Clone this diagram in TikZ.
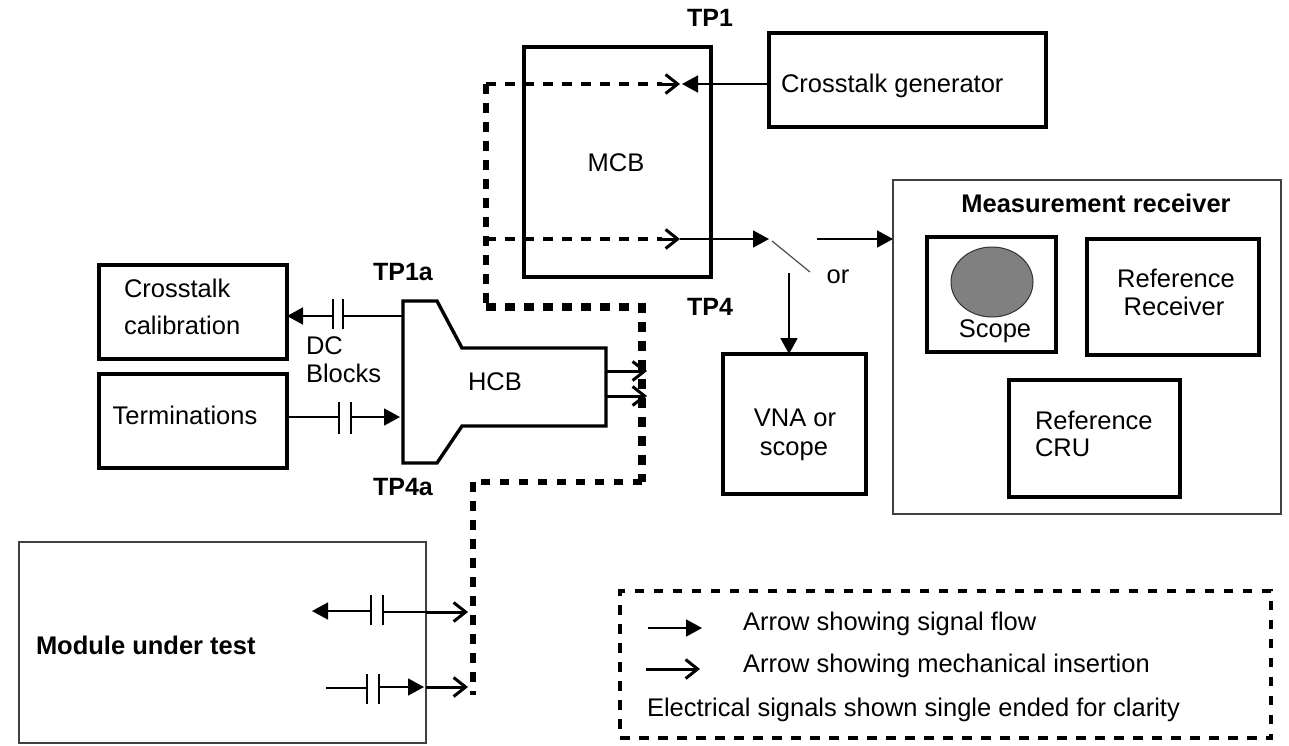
\documentclass[tikz,border=0pt]{standalone}
\usepackage{fontspec}
\setmainfont{Liberation Sans}
\usetikzlibrary{arrows.meta,calc,shapes.geometric}
\tikzset{
  x=1pt,y=-1pt,
  every node/.style={font=\fontsize{25.5}{30}\selectfont,inner sep=0pt,outer sep=0pt},
  tp/.style={font=\fontsize{25}{30}\selectfont\bfseries},
  box/.style={draw=black,line width=3.4pt,anchor=north west},
  thinbox/.style={draw=black!75,line width=1.8pt,anchor=north west},
  sig/.style={line width=1.7pt,-{Triangle[length=16pt,width=17pt]}},
  wire/.style={line width=1.7pt},
  mech/.style={line width=3pt,-{Straight Barb[length=12pt,width=19pt,line width=3pt]}},
  capl/.style={line width=1.5pt},
  dashA/.style={line width=3.6pt,dash pattern=on 9.5pt off 9.5pt},
  dashB/.style={line width=6pt,dash pattern=on 9.5pt off 9.5pt},
  dashC/.style={line width=8pt,dash pattern=on 9.5pt off 9.5pt}
}
\newcommand{\bx}[6]{\node[#1,minimum width=#4-#3,minimum height=#6-#5] (#2) at (#3,#5) {};}
\begin{document}
\begin{tikzpicture}
\useasboundingbox (0,0) rectangle (1289,745);
% boxes
\bx{box}{mcb}{524}{711}{47}{277}
\bx{box}{gen}{769}{1046}{33}{127}
\bx{box}{cal}{99}{287}{265}{359}
\bx{box}{term}{99}{287}{374}{468}
\bx{box}{vna}{723}{866}{354}{494}
\bx{thinbox}{meas}{893}{1281}{180}{514}
\bx{box}{scopebox}{927}{1056}{237}{352}
\bx{box}{refrx}{1087}{1259}{239}{355}
\bx{box}{refcru}{1009}{1180}{380}{497}
\bx{thinbox}{mut}{19}{426}{542}{743}
\node[draw=black!80,line width=1pt,fill=black!50,ellipse,minimum width=82pt,minimum height=70pt] (scr) at (992,282) {};
% HCB
\draw[line width=3.4pt,line join=miter] (403,301) -- (437,301) -- (462,348) -- (606,348) -- (606,426) -- (462,426) -- (437,463) -- (403,463) -- cycle;
\coordinate (hcbA) at (403,316);
\coordinate (hcbB) at (403,417);
\coordinate (hcbC) at (606,371);
\coordinate (hcbD) at (606,396);
% labels
\node[tp] (ltp1) at (710,18) {TP1};
\node[tp] (ltp4) at (710,307) {TP4};
\node[tp] (ltp1a) at (403,272) {TP1a};
\node[tp] (ltp4a) at (403,487) {TP4a};
\node (lmcb) at (616,163) {MCB};
\node (lhcb) at (495,382) {HCB};
\node[anchor=west] (lgen) at (781,86) {Crosstalk generator};
\node[anchor=west] (lcal1) at (124,288) {Crosstalk};
\node[anchor=west] (lcal2) at (124,325) {calibration};
\node[anchor=west] (ldc1) at (306,346) {DC};
\node[anchor=west] (ldc2) at (306,373) {Blocks};
\node (lterm) at (185,415) {Terminations};
\node[anchor=west,font=\fontsize{25.5}{30}\selectfont\bfseries] (lmut) at (36,645) {Module under test};
\node[font=\fontsize{25.5}{30}\selectfont\bfseries] (lmeas) at (1096,203) {Measurement receiver};
\node (lscope) at (995,331) {Scope};
\node (lr1) at (1176,278) {Reference};
\node (lr2) at (1174,306) {Receiver};
\node[anchor=west] (lc1) at (1035,420) {Reference};
\node[anchor=west] (lc2) at (1035,448) {CRU};
\node (lv1) at (795,418) {VNA or};
\node (lv2) at (794,451) {scope};
\node (lor) at (838,277) {or};
% thick dotted path
\coordinate (p1) at (486,84);
\coordinate (p2) at (486,239);
\coordinate (p3) at (486,307);
\coordinate (p4) at (642,307);
\coordinate (p5) at (642,482);
\coordinate (p6) at (473,482);
\coordinate (p7) at (473,695);
\coordinate (tipA) at (680,84);
\coordinate (tipB) at (680,239);
\draw[dashB] (p1) -- (p3);
\draw[dashC] (p3) -- (p4) -- (p5);
\draw[dashB] (p5) -- (p6);
\draw[line width=6pt,dash pattern=on 9.5pt off 9.5pt] (p6) -- (p7);
% dashed in MCB
\draw[dashA] (p1) -- ($(tipA)+(-18,0)$);
\draw[dashA] (p2) -- ($(tipB)+(-18,0)$);
\draw[mech] ($(tipA)+(-20,0)$) -- (tipA);
\draw[mech] ($(tipB)+(-20,0)$) -- (tipB);
\coordinate (tipG) at (682,84);
\draw[sig] (gen.west |- tipG) -- (tipG);
% MCB to switch
\coordinate (swin) at (769,239);
\coordinate (swa) at (772,241);
\coordinate (swb) at (810,272);
\coordinate (swout) at (817,239);
\draw[sig] (tipB) -- (swin);
\draw[line width=1.2pt,black!70] (swa) -- (swb);
\draw[sig] (swout) -- (swout -| meas.west);
\coordinate (swdn) at (789,273);
\draw[sig] (swdn) -- (swdn |- vna.north);
% HCB arrows
\draw[mech] (hcbC) -- +(41,0) coordinate (hcbCt);
\draw[mech] (hcbD) -- +(41,0) coordinate (hcbDt);
% DC block 1
\coordinate (c1a) at (333,316);
\coordinate (c1b) at (343,316);
\draw[sig] (c1a) -- (cal.east |- c1a);
\draw[wire] (c1b) -- (hcbA);
\draw[capl] (333,299) -- (333,329);
\draw[capl] (343,299) -- (343,329);
% DC block 2
\coordinate (c2a) at (339,417);
\coordinate (c2b) at (351,417);
\draw[wire] (term.east |- c2a) -- (c2a);
\draw[sig] (c2b) -- ($(hcbB)+(-3,0)$);
\draw[capl] (339,402) -- (339,434);
\draw[capl] (351,402) -- (351,434);
% module 1
\coordinate (m1a) at (371,611);
\coordinate (m1b) at (383,612);
\coordinate (m1l) at (312,611);
\coordinate (m1e) at (426,612);
\coordinate (m1t) at (468,612);
\draw[sig] (m1a) -- (m1l);
\draw[wire] (m1b) -- (m1e);
\draw[mech] (m1e) -- (m1t);
\draw[capl] (371,595) -- (371,625);
\draw[capl] (383,595) -- (383,625);
% module 2
\coordinate (m2s) at (326,688);
\coordinate (m2a) at (367,688);
\coordinate (m2b) at (379,687);
\coordinate (m2e) at (424,687);
\coordinate (m2f) at (426,687);
\coordinate (m2t) at (468,687);
\draw[wire] (m2s) -- (m2a);
\draw[sig] (m2b) -- (m2e);
\draw[mech] (m2f) -- (m2t);
\draw[capl] (367,674) -- (367,704);
\draw[capl] (379,674) -- (379,704);
% legend
\node[draw=black,dashA,anchor=north west,minimum width=651pt,minimum height=147pt] (leg) at (620,591) {};
\coordinate (la1) at (648,628); \coordinate (la2) at (702,628);
\coordinate (lb1) at (646,669); \coordinate (lb2) at (700,669);
\draw[sig] (la1) -- (la2);
\draw[mech] (lb1) -- (lb2);
\node[anchor=west] (lt1) at (743,624) {Arrow showing signal flow};
\node[anchor=west] (lt2) at (743,666) {Arrow showing mechanical insertion};
\node[anchor=west] (lt3) at (647,710) {Electrical signals shown single ended for clarity};
\end{tikzpicture}
\end{document}
